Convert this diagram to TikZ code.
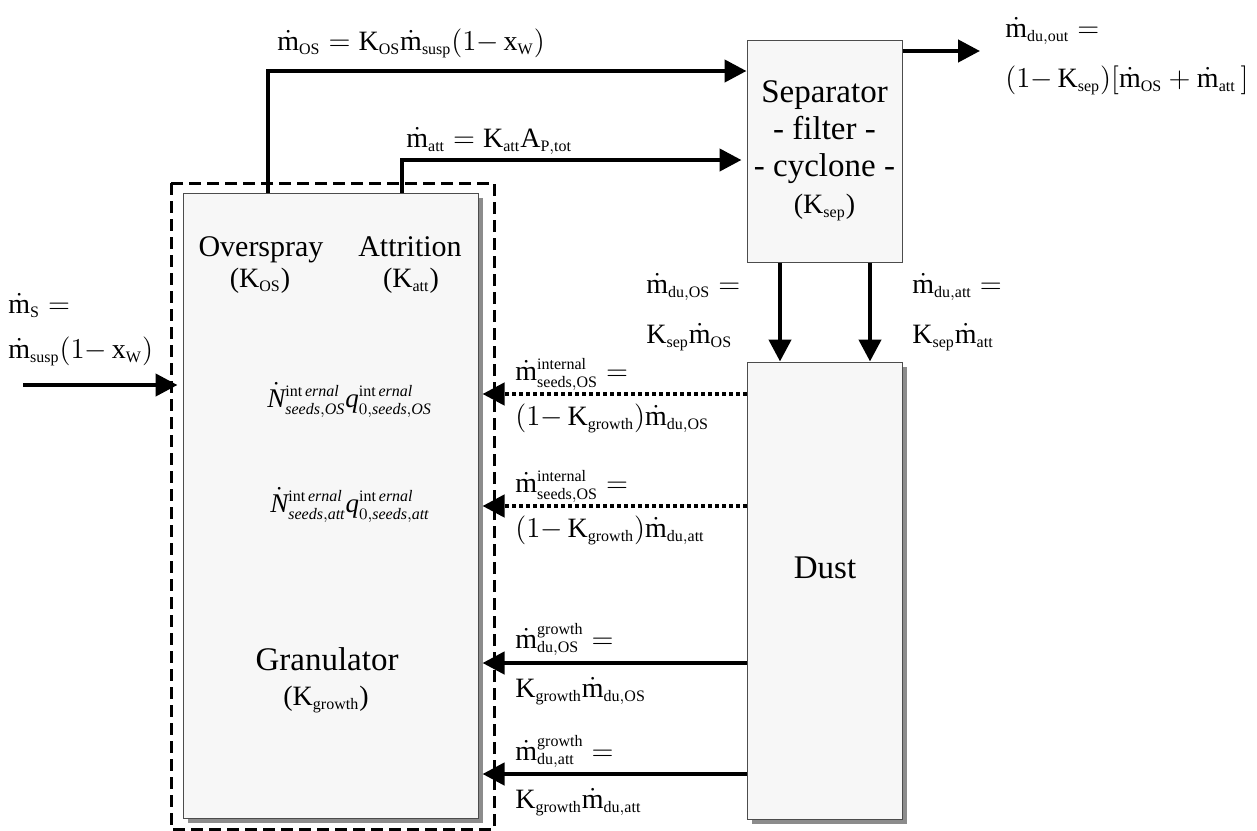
\documentclass[tikz,border=0pt]{standalone}
\usepackage{fontspec}
\setmainfont{Liberation Serif}
\usetikzlibrary{arrows.meta,shadows}
\DeclareMathSizes{14}{14}{8}{6}
\DeclareMathSizes{13}{13}{7.5}{6}
\DeclareMathSizes{13.5}{13.5}{8}{6}
\newcommand{\mflow}{\dot{\mathrm{m}}}
\newcommand{\intl}{\mathrm{int}\,\mathit{ernal}}

\begin{document}
\begin{tikzpicture}[x=0.5pt, y=-0.5pt,
    flow/.style={line width=2.2pt, -{Triangle[length=11pt,width=11pt]}},
    seedflow/.style={flow, dash pattern=on 2pt off 1.5pt},
    unit/.style={draw=black!70, line width=0.5pt, fill=black!3, inner sep=0pt},
    shade/.style={drop shadow={shadow xshift=2.5pt, shadow yshift=-2.5pt, fill=black!45, opacity=1}},
    boundary/.style={line width=1.5pt, dash pattern=on 6pt off 3pt},
    big/.style={font=\fontsize{16.5}{18.5}\selectfont},
    mid/.style={font=\fontsize{15}{17}\selectfont, anchor=base},
    eq/.style={font=\fontsize{14}{16}\selectfont, anchor=base west, inner sep=0pt},
    seq/.style={font=\fontsize{14}{16}\selectfont, anchor=base, inner sep=0pt},
    neq/.style={font=\fontsize{13.5}{15}\selectfont, anchor=base west, inner sep=0pt}]
    \useasboundingbox (0,0) rectangle (1257,830);
    % units
    \node[unit, shade, minimum width=147.5pt, minimum height=312.5pt] (gran) at (330.5,505.5) {};
    \node[unit, big, align=center, minimum width=77.5pt, minimum height=111pt] (sep) at (824.5,151)
        {Separator\\- filter -\\- cyclone -\\{\fontsize{14}{16}\selectfont($\mathrm{K_{sep}}$)}};
    \node[unit, shade, minimum width=77.5pt, minimum height=228.5pt] (dust) at (824.5,590.5) {};
    % system boundary
    \draw[boundary] (171,183) rectangle (494,829);
    % texts inside the granulator
    \node[mid] (ovs) at (261,256) {Overspray};
    \node[mid] (atr) at (410,256) {Attrition};
    \node[seq] (kos) at (260,287) {($\mathrm{K_{OS}}$)};
    \node[seq] (katt) at (411,287) {($\mathrm{K_{att}}$)};
    \node[neq] (nos) at (267,407) {$\dot{\mathit{N}}^{\intl}_{\mathit{seeds,OS}}\mathit{q}^{\intl}_{0,\mathit{seeds,OS}}$};
    \node[neq] (natt) at (270,512) {$\dot{\mathit{N}}^{\intl}_{\mathit{seeds,att}}\mathit{q}^{\intl}_{0,\mathit{seeds,att}}$};
    \node[big, anchor=base] (granlbl) at (327,670) {Granulator};
    \node[seq] (kgr) at (326,705) {($\mathrm{K_{growth}}$)};
    \node[big, anchor=base] (dustlbl) at (825,578) {Dust};
    % free ends
    \coordinate (feed) at (23,385);
    \coordinate (osbend) at (268,71);
    \coordinate (attbend) at (402,160);
    \coordinate (out) at (980,51);
    \coordinate (duos) at (780,0);
    \coordinate (duatt) at (870,0);
    % streams
    \draw[flow] (feed) -- ([xshift=-2.5pt]gran.west |- feed);
    \draw[flow] (gran.north -| osbend) |- (sep.west |- osbend);
    \draw[flow] (gran.north -| attbend) |- ([xshift=-2.5pt]sep.west |- attbend);
    \draw[flow] (sep.east |- out) -- (out);
    \draw[flow] (sep.south -| duos) -- (dust.north -| duos);
    \draw[flow] (sep.south -| duatt) -- (dust.north -| duatt);
    \foreach \y/\s in {394/seedflow, 506/seedflow, 663/flow, 774/flow}
        \draw[\s] (dust.west |- 0,\y) -- ([xshift=2pt]gran.east |- 0,\y);
    % stream labels
    \node[eq] (ms1) at (8,313) {$\mflow_{\mathrm{S}} =$};
    \node[eq] (ms2) at (8,358) {$\mflow_{\mathrm{susp}}(1{-}\,\mathrm{x}_{\mathrm{W}})$};
    \node[eq] (mos) at (277,50) {$\mflow_{\mathrm{OS}} = \mathrm{K_{OS}}\mflow_{\mathrm{susp}}(1{-}\,\mathrm{x}_{\mathrm{W}})$};
    \node[eq] (matt) at (406,147) {$\mflow_{\mathrm{att}} = \mathrm{K_{att}A_{P,tot}}$};
    \node[eq] (mout1) at (1005,37) {$\mflow_{\mathrm{du,out}} =$};
    \node[eq] (mout2) at (1005,87) {$(1{-}\,\mathrm{K_{sep}})\bigl[\mflow_{\mathrm{OS}}+\mflow_{\mathrm{att}}\,\bigr]$};
    \node[eq] (mduos1) at (646,293) {$\mflow_{\mathrm{du,OS}} =$};
    \node[eq] (mduos2) at (646,343) {$\mathrm{K_{sep}}\mflow_{\mathrm{OS}}$};
    \node[eq] (mduatt1) at (912,293) {$\mflow_{\mathrm{du,att}} =$};
    \node[eq] (mduatt2) at (912,343) {$\mathrm{K_{sep}}\mflow_{\mathrm{att}}$};
    \node[eq] (mint1) at (515,380) {$\mflow^{\mathrm{internal}}_{\mathrm{seeds,OS}} =$};
    \node[eq] (mint2) at (515,425) {$(1{-}\,\mathrm{K_{growth}})\mflow_{\mathrm{du,OS}}$};
    \node[eq] (mint3) at (515,492) {$\mflow^{\mathrm{internal}}_{\mathrm{seeds,OS}} =$};
    \node[eq] (mint4) at (515,537) {$(1{-}\,\mathrm{K_{growth}})\mflow_{\mathrm{du,att}}$};
    \node[eq] (mgr1) at (515,648) {$\mflow^{\mathrm{growth}}_{\mathrm{du,OS}} =$};
    \node[eq] (mgr2) at (515,697) {$\mathrm{K_{growth}}\mflow_{\mathrm{du,OS}}$};
    \node[eq] (mgr3) at (515,760) {$\mflow^{\mathrm{growth}}_{\mathrm{du,att}} =$};
    \node[eq] (mgr4) at (515,808) {$\mathrm{K_{growth}}\mflow_{\mathrm{du,att}}$};
\end{tikzpicture}
\end{document}
